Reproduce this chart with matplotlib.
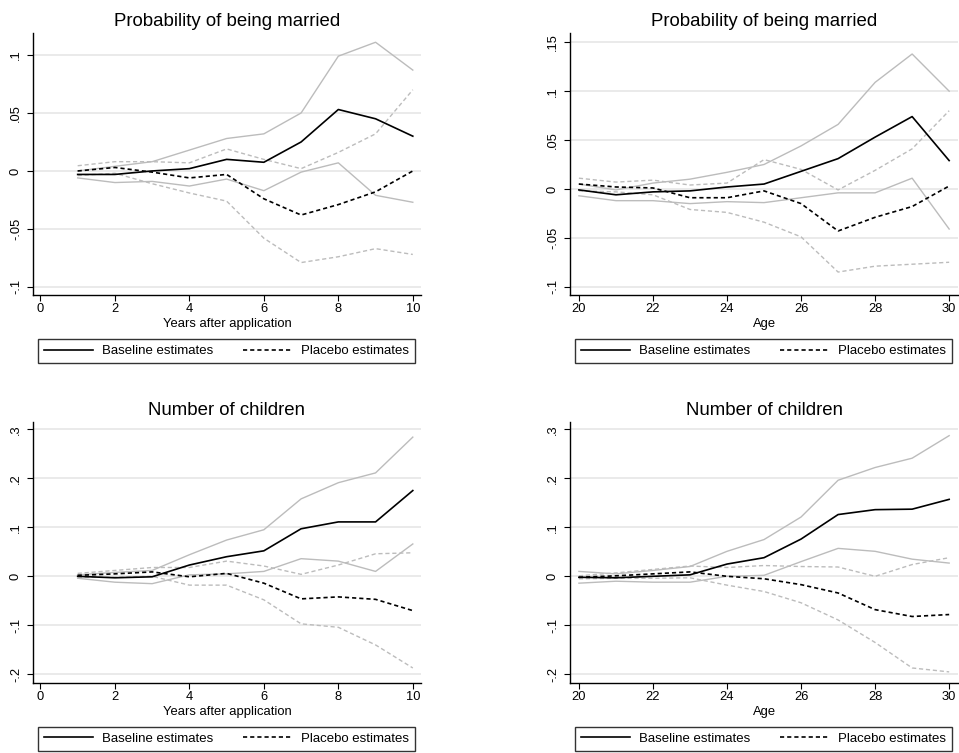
import numpy as np
import matplotlib
matplotlib.use("Agg")
from matplotlib import pyplot as plt

plt.rcParams['font.family'] = ['Liberation Sans', 'DejaVu Sans']

# x values
years = [1, 2, 3, 4, 5, 6, 7, 8, 9, 10]
ages = [20, 21, 22, 23, 24, 25, 26, 27, 28, 29, 30]

# Probability of being married, by years after application
mar_yrs_base = [-0.003, -0.003, 0.000, 0.002, 0.010, 0.0075, 0.025, 0.053, 0.045, 0.030]
mar_yrs_base_hi = [0.000, 0.004, 0.008, 0.018, 0.028, 0.032, 0.050, 0.099, 0.111, 0.087]
mar_yrs_base_lo = [-0.006, -0.010, -0.009, -0.013, -0.007, -0.017, -0.001, 0.007, -0.021, -0.027]
mar_yrs_plac = [0.000, 0.003, -0.001, -0.006, -0.003, -0.024, -0.038, -0.029, -0.018, 0.000]
mar_yrs_plac_hi = [0.0045, 0.008, 0.008, 0.007, 0.019, 0.010, 0.002, 0.016, 0.032, 0.070]
mar_yrs_plac_lo = [-0.004, -0.002, -0.011, -0.019, -0.026, -0.058, -0.079, -0.074, -0.067, -0.072]

# Probability of being married, by age
mar_age_base = [-0.001, -0.006, -0.003, -0.002, 0.002, 0.005, 0.018, 0.031, 0.053, 0.074, 0.029]
mar_age_base_hi = [0.005, -0.001, 0.006, 0.010, 0.017, 0.025, 0.044, 0.066, 0.109, 0.138, 0.100]
mar_age_base_lo = [-0.007, -0.012, -0.012, -0.015, -0.013, -0.014, -0.009, -0.004, -0.004, 0.011, -0.041]
mar_age_plac = [0.005, 0.002, 0.001, -0.009, -0.009, -0.002, -0.015, -0.043, -0.029, -0.018, 0.003]
mar_age_plac_hi = [0.011, 0.007, 0.009, 0.004, 0.006, 0.030, 0.020, -0.001, 0.019, 0.041, 0.080]
mar_age_plac_lo = [-0.002, -0.003, -0.006, -0.021, -0.024, -0.034, -0.049, -0.085, -0.079, -0.077, -0.075]

# Number of children, by years after application
kid_yrs_base = [0.000, -0.003, -0.001, 0.023, 0.040, 0.052, 0.097, 0.111, 0.111, 0.175]
kid_yrs_base_hi = [0.003, 0.008, 0.012, 0.044, 0.074, 0.095, 0.158, 0.191, 0.211, 0.284]
kid_yrs_base_lo = [-0.004, -0.012, -0.015, 0.003, 0.005, 0.010, 0.036, 0.031, 0.010, 0.066]
kid_yrs_plac = [0.002, 0.005, 0.009, -0.001, 0.006, -0.014, -0.046, -0.042, -0.047, -0.070]
kid_yrs_plac_hi = [0.006, 0.012, 0.018, 0.018, 0.031, 0.021, 0.004, 0.023, 0.046, 0.048]
kid_yrs_plac_lo = [-0.002, -0.002, 0.000, -0.018, -0.018, -0.048, -0.097, -0.104, -0.140, -0.187]

# Number of children, by age
kid_age_base = [-0.002, -0.003, 0.000, 0.003, 0.025, 0.038, 0.076, 0.126, 0.136, 0.137, 0.157]
kid_age_base_hi = [0.010, 0.005, 0.012, 0.020, 0.051, 0.075, 0.121, 0.196, 0.222, 0.241, 0.287]
kid_age_base_lo = [-0.014, -0.010, -0.012, -0.012, 0.000, 0.002, 0.030, 0.057, 0.051, 0.035, 0.027]
kid_age_plac = [-0.002, 0.001, 0.005, 0.009, 0.000, -0.005, -0.017, -0.034, -0.068, -0.082, -0.078]
kid_age_plac_hi = [0.001, 0.007, 0.014, 0.021, 0.018, 0.022, 0.020, 0.019, 0.000, 0.024, 0.038]
kid_age_plac_lo = [-0.005, -0.004, -0.004, -0.003, -0.018, -0.031, -0.054, -0.089, -0.135, -0.187, -0.195]

mar_ticks = [-0.1, -0.05, 0, 0.05, 0.1]
mar_age_ticks = [-0.1, -0.05, 0, 0.05, 0.1, 0.15]
kid_ticks = [-0.2, -0.1, 0, 0.1, 0.2, 0.3]

grey = '#bcbcbc'


def stata_fmt(v):
    if v == 0:
        return '0'
    s = ('%g' % v)
    return s.replace('0.', '.')


def panel(ax, x, base, base_hi, base_lo, plac, plac_hi, plac_lo,
          title, xlabel, xticks, xlim, yticks, ylim):
    ax.grid(axis='y', color='#e8e8e8', linewidth=1.3)
    ax.set_axisbelow(True)
    ax.plot(x, base_hi, color=grey, lw=1.0)
    ax.plot(x, base_lo, color=grey, lw=1.0)
    ax.plot(x, plac_hi, color=grey, lw=1.0, ls=(0, (3, 2)))
    ax.plot(x, plac_lo, color=grey, lw=1.0, ls=(0, (3, 2)))
    ax.plot(x, base, color='black', lw=1.2, label='Baseline estimates')
    ax.plot(x, plac, color='black', lw=1.2, ls=(0, (2.5, 1.8)), label='Placebo estimates')
    ax.set_title(title, fontsize=13.4, pad=5)
    ax.set_xlabel(xlabel, fontsize=9.4, labelpad=2)
    ax.set_xticks(xticks)
    ax.set_xlim(xlim)
    ax.set_yticks(yticks)
    ax.set_yticklabels([stata_fmt(v) for v in yticks], rotation=90, va='center')
    ax.set_ylim(ylim)
    ax.tick_params(labelsize=9.3, length=4, width=0.8, pad=2)
    ax.tick_params(axis='y', pad=4)
    ax.spines['top'].set_visible(False)
    ax.spines['right'].set_visible(False)
    for s in ['left', 'bottom']:
        ax.spines[s].set_linewidth(1.0)
    leg = ax.legend(loc='upper left', bbox_to_anchor=(0.013, -0.168, 0.972, 0.0),
                    mode='expand', ncol=2, fontsize=9.5, handlelength=3.7,
                    frameon=True, fancybox=False, borderaxespad=0,
                    borderpad=0.45, handletextpad=0.7)
    leg.get_frame().set_edgecolor('black')
    leg.get_frame().set_linewidth(1.0)


fig = plt.figure(figsize=(9.59, 7.53), dpi=100)
ax1 = fig.add_axes([0.0344, 0.6082, 0.4046, 0.348])
ax2 = fig.add_axes([0.5944, 0.6082, 0.4046, 0.348])
ax3 = fig.add_axes([0.0344, 0.0934, 0.4046, 0.3466])
ax4 = fig.add_axes([0.5944, 0.0934, 0.4046, 0.3466])

panel(ax1, years, mar_yrs_base, mar_yrs_base_hi, mar_yrs_base_lo,
      mar_yrs_plac, mar_yrs_plac_hi, mar_yrs_plac_lo,
      'Probability of being married', 'Years after application',
      [0, 2, 4, 6, 8, 10], (-0.2, 10.22), mar_ticks, (-0.107, 0.119))
panel(ax2, ages, mar_age_base, mar_age_base_hi, mar_age_base_lo,
      mar_age_plac, mar_age_plac_hi, mar_age_plac_lo,
      'Probability of being married', 'Age',
      [20, 22, 24, 26, 28, 30], (19.76, 30.24), mar_age_ticks, (-0.1085, 0.1595))
panel(ax3, years, kid_yrs_base, kid_yrs_base_hi, kid_yrs_base_lo,
      kid_yrs_plac, kid_yrs_plac_hi, kid_yrs_plac_lo,
      'Number of children', 'Years after application',
      [0, 2, 4, 6, 8, 10], (-0.2, 10.22), kid_ticks, (-0.217, 0.3155))
panel(ax4, ages, kid_age_base, kid_age_base_hi, kid_age_base_lo,
      kid_age_plac, kid_age_plac_hi, kid_age_plac_lo,
      'Number of children', 'Age',
      [20, 22, 24, 26, 28, 30], (19.76, 30.24), kid_ticks, (-0.217, 0.3155))

fig.savefig('out.png', dpi=100)
